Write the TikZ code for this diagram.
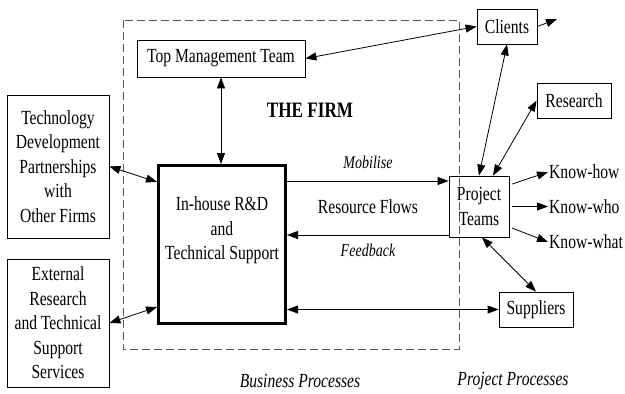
\documentclass[tikz,border=0pt]{standalone}
\usepackage{fontspec}
\setmainfont{Liberation Serif}[FakeStretch=0.78]
\usetikzlibrary{arrows.meta, calc}

\begin{document}
\begin{tikzpicture}[x=1pt, y=-1pt, font=\fontsize{20}{24.5}\selectfont,
    box/.style={draw, black, thin, line width=0.8pt, inner sep=0pt, align=center},
    corebox/.style={draw, black, line width=3pt, inner sep=0pt, align=center},
    firm/.style={draw, black!65, line width=0.8pt, dash pattern=on 8pt off 4pt},
    flow/.style={line width=0.8pt, -{Triangle[length=11pt, width=8pt]}},
    both/.style={line width=0.8pt, {Triangle[length=11pt, width=8pt]}-{Triangle[length=11pt, width=8pt]}},
    lbl/.style={inner sep=1pt, font=\fontsize{18}{20}\selectfont\itshape},
    know/.style={anchor=west, inner sep=1pt},
    ]
    \useasboundingbox (0,0) rectangle (625,394);

    \draw[firm] (123,20) rectangle (459,349);

    \node(tmt)[box, minimum width=168pt, minimum height=37pt] at (221,58.5) {Top Management Team};
    \node(clients)[box, minimum width=60pt, minimum height=35pt] at (507,26.5) {Clients};
    \node(research)[box, minimum width=74pt, minimum height=35pt] at (574,100.5) {Research};
    \node(pt)[box, minimum width=60pt, minimum height=61pt] at (479,206.5) {Project\\Teams};
    \node(suppliers)[box, minimum width=74pt, minimum height=35pt] at (536,309.5) {Suppliers};
    \node(tech)[box, minimum width=102pt, minimum height=143pt] at (58,166.5)
        {Technology\\Development\\Partnerships\\with\\Other Firms};
    \node(ext)[box, minimum width=102pt, minimum height=128pt] at (58,323)
        {External\\Research\\and Technical\\Support\\Services};
    \node(inhouse)[corebox, minimum width=127pt, minimum height=158pt] at (222,244.5)
        {In-house R\&D\\and\\Technical Support\\[8pt]};

    \node(firmname)[font=\fontsize{22}{24}\selectfont\bfseries] at (310,110) {THE FIRM};
    \node(mob)[lbl] at (368,162) {Mobilise};
    \node(resflows) at (368,207) {Resource Flows};
    \node(fb)[lbl] at (368,250) {Feedback};
    \node(bp)[lbl, font=\fontsize{20}{22}\selectfont\itshape] at (300,381) {Business Processes};
    \node(pp)[lbl, font=\fontsize{20}{22}\selectfont\itshape] at (513,381) {Project Processes};

    \node(knowhow)[know] at (548,172) {Know-how};
    \node(knowwho)[know] at (548,206.5) {Know-who};
    \node(knowwhat)[know] at (548,242) {Know-what};

    \coordinate (out) at (557,19);
    \coordinate (mobR) at ([yshift=25.5pt]pt.west);
    \coordinate (fbR) at ([yshift=-28.5pt]pt.west);

    \draw[flow] (clients.east) -- (out);
    \draw[both] (tmt.east) -- (clients.west);
    \draw[both] (tmt.south) -- (tmt.south |- inhouse.north);
    \draw[both] (clients.south) -- (pt.north);
    \draw[both] (research.west) -- ([xshift=14pt]pt.north);
    \draw[both] ([xshift=3pt]pt.south) -- (suppliers.north);
    \draw[both] (tech.east) -- ([yshift=62.5pt]inhouse.west);
    \draw[both] (ext.east) -- ([yshift=-62.5pt]inhouse.west);

    \draw[flow] (mobR -| inhouse.east) -- (mobR);
    \draw[flow] (fbR) -- (fbR -| inhouse.east);
    \draw[both] (suppliers.west -| inhouse.east) -- (suppliers.west);

    \draw[flow, shorten <=3pt] ([yshift=21.5pt]pt.east) -- (knowhow.west);
    \draw[flow, shorten <=3pt] (pt.east) -- (knowwho.west);
    \draw[flow, shorten <=3pt] ([yshift=-20.5pt]pt.east) -- (knowwhat.west);

\end{tikzpicture}
\end{document}
